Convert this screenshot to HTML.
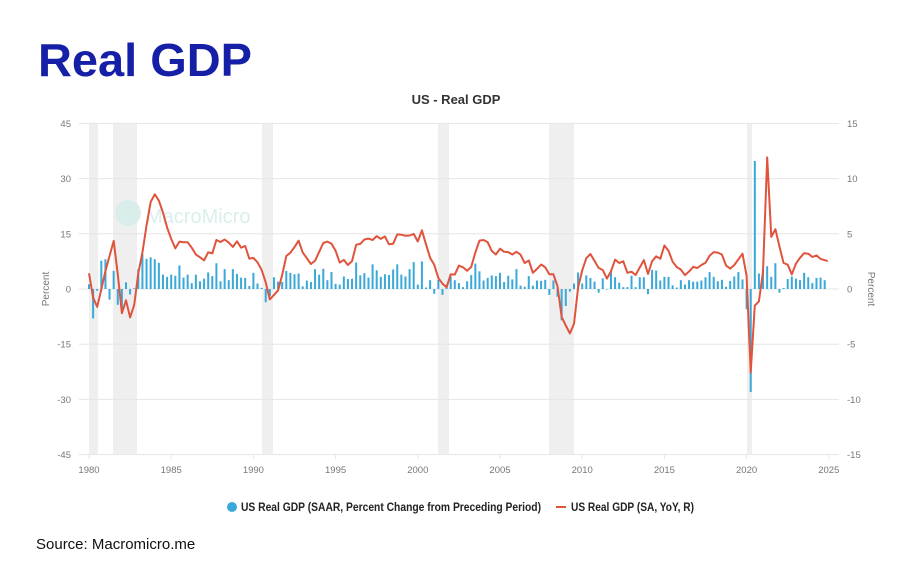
<!DOCTYPE html>
<html><head><meta charset="utf-8"><style>
body{margin:0;background:#fff;}
svg{display:block;font-family:"Liberation Sans",sans-serif;}
</style></head><body>
<svg id="s" width="912" height="586" xmlns="http://www.w3.org/2000/svg">
<text x="38" y="76" font-size="46" font-weight="bold" fill="#1520a6" textLength="214" lengthAdjust="spacingAndGlyphs">Real GDP</text>
<text x="456" y="104" font-size="13" font-weight="bold" fill="#333" text-anchor="middle">US - Real GDP</text>
<g id="bands" fill="#efefef">
<rect x="89" y="123" width="9" height="331"/>
<rect x="113" y="123" width="24" height="331"/>
<rect x="262" y="123" width="11" height="331"/>
<rect x="438" y="123" width="11" height="331"/>
<rect x="549" y="123" width="25" height="331"/>
<rect x="747" y="123" width="5" height="331"/>
</g>
<g id="grid" stroke="#e6e6e6" stroke-width="1"></g>
<g font-size="28" fill="#d6ede9" opacity="0.9"><circle cx="128" cy="213" r="13" fill="#d6ede9"/><text x="146" y="223" font-size="20">MacroMicro</text></g>
<g id="bars" fill="#3aa8d8"></g>
<polyline id="line" fill="none" stroke="#e0533c" stroke-width="2" stroke-linejoin="round"/>
<g id="labels" font-size="9.5" fill="#777"></g>
<text transform="translate(49,289) rotate(-90)" font-size="10" fill="#777" text-anchor="middle">Percent</text>
<text transform="translate(868,289) rotate(90)" font-size="10" fill="#777" text-anchor="middle">Percent</text>
<circle cx="232" cy="507" r="5" fill="#3aa8d8"/>
<text x="241" y="511" font-size="12" font-weight="bold" fill="#222" textLength="300" lengthAdjust="spacingAndGlyphs">US Real GDP (SAAR, Percent Change from Preceding Period)</text>
<line x1="556" y1="507" x2="566" y2="507" stroke="#e0533c" stroke-width="2"/>
<text x="571" y="511" font-size="12" font-weight="bold" fill="#222" textLength="123" lengthAdjust="spacingAndGlyphs">US Real GDP (SA, YoY, R)</text>
<text x="36" y="549" font-size="15" fill="#111">Source: Macromicro.me</text>
</svg>
<script>
var q=[0.7,0.4,3.0,1.0,
1.3,-8.0,-0.5,7.7, 8.1,-2.9,4.9,-4.3, -6.1,1.8,-1.5,0.2, 5.4,9.4,8.2,8.6,
8.1,7.1,3.9,3.3, 3.9,3.6,6.4,3.1, 3.9,1.6,3.9,2.1, 2.8,4.5,3.5,7.0,
2.1,5.4,2.4,5.4, 4.1,3.1,3.0,0.8, 4.4,1.5,0.3,-3.6, -1.9,3.2,2.0,1.9,
4.9,4.4,4.0,4.2, 0.7,2.3,1.9,5.4, 3.9,5.5,2.4,4.6, 1.4,1.2,3.4,2.7,
2.8,7.2,3.7,4.3, 3.1,6.7,5.1,3.3, 4.0,3.8,5.3,6.7, 3.9,3.4,5.4,7.3,
1.2,7.5,0.4,2.4, -1.3,2.5,-1.6,1.1, 3.4,2.4,1.6,0.5, 2.1,3.8,6.9,4.8,
2.3,3.0,3.7,3.5, 4.4,1.9,3.6,2.6, 5.4,0.9,0.6,3.5, 0.9,2.3,2.2,2.5,
-1.6,2.3,-2.1,-8.5, -4.6,-0.7,1.5,4.5, 1.5,3.7,3.0,2.0, -1.0,2.9,-0.1,4.7,
3.2,1.7,0.5,0.5, 3.6,0.5,3.2,3.2, -1.4,5.2,5.0,2.3, 3.3,3.3,1.0,0.4,
2.4,1.2,2.4,2.0, 2.0,2.3,3.2,4.6, 3.3,2.1,2.5,0.6, 2.2,3.4,4.6,2.6,
-5.5,-28.0,34.8,4.2, 5.2,6.2,3.3,7.0, -1.0,0.3,2.7,3.4, 2.8,2.4,4.4,3.2,
1.6,3.0,3.1,2.4];
var NS="http://www.w3.org/2000/svg";
function el(t,a,p){var e=document.createElementNS(NS,t);for(var k in a)e.setAttribute(k,a[k]);if(p)p.appendChild(e);return e;}
var X=function(y){return 89+(y-1980)*16.44;};
var YL=function(v){return 289-v*3.68;};
var YR=function(v){return 289-v*11.04;};
var g=document.getElementById('grid'),lb=document.getElementById('labels');
for(var i=-3;i<=3;i++){var y=289-i*55.2;el('line',{x1:79,x2:839,y1:y,y2:y},g);
var t=el('text',{x:71,y:y+3.5,'text-anchor':'end'},lb);t.textContent=i*15;
var t2=el('text',{x:847,y:y+3.5},lb);t2.textContent=i*5;}
for(var yr=1980;yr<=2025;yr+=5){var x=X(yr);el('line',{x1:x,x2:x,y1:454,y2:459},g);
var t=el('text',{x:x,y:473,'text-anchor':'middle'},lb);t.textContent=yr;}
var b=document.getElementById('bars'),pts=[];
for(var i=4;i<q.length;i++){var yr=1980+(i-4)*0.25;var x=X(yr);var v=q[i];
var y0=YL(0),y1=YL(v);el('rect',{x:x-1,y:Math.min(y0,y1),width:2,height:Math.max(0.5,Math.abs(y1-y0))},b);
var p=1;for(var j=i-3;j<=i;j++)p*=Math.pow(1+q[j]/100,0.25);var yoy=(p-1)*100;
pts.push((x+ (i==q.length-1?3:0)).toFixed(1)+","+YR(yoy).toFixed(1));}
document.getElementById('line').setAttribute('points',pts.join(' '));
</script>
</body></html>
